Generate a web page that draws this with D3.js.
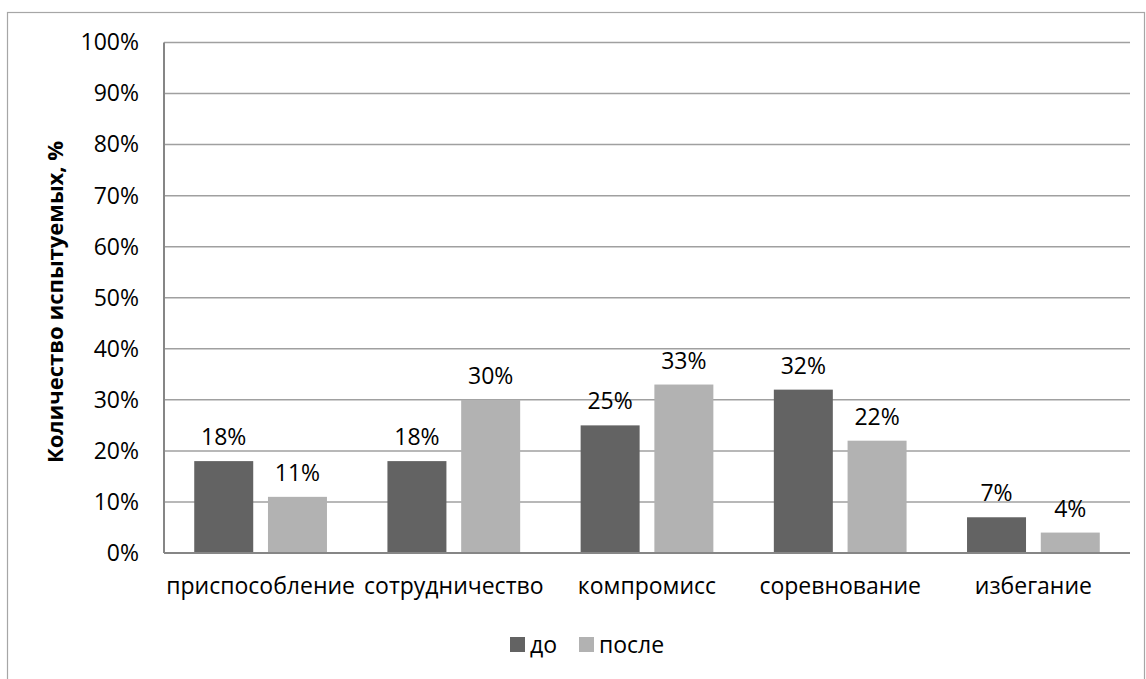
<!DOCTYPE html>
<html>
<head>
<meta charset="utf-8">
<script src="https://cdn.jsdelivr.net/npm/d3@7"></script>
<style>
  html, body { margin: 0; padding: 0; background: #fff; }
  svg { display: block; font-family: "Open Sans", "Noto Sans", sans-serif; }
</style>
</head>
<body>
<svg id="chart" width="1146" height="679"></svg>
<script>
// Conflict-handling strategies, share of participants before and after
const categories = ["приспособление", "сотрудничество", "компромисс", "соревнование", "избегание"];
const seriesNames = ["до", "после"];
const valuesBefore = [18, 18, 25, 32, 7];
const valuesAfter = [11, 30, 33, 22, 4];
const yTicks = [0, 10, 20, 30, 40, 50, 60, 70, 80, 90, 100];
const yTitle = "Количество испытуемых, %";

const colors = ["#636363", "#b2b2b2"];
const fontSize = 23;
const svg = d3.select("#chart");

// outer frame
svg.append("rect")
  .attr("x", 7.5).attr("y", 12.5)
  .attr("width", 1137).attr("height", 700)
  .attr("fill", "none").attr("stroke", "#a6a6a6").attr("stroke-width", 1.2);

const plot = { left: 164, right: 1130, top: 42.5, bottom: 553 };

const x = d3.scaleBand().domain(categories).range([plot.left, plot.right]).paddingInner(0).paddingOuter(0);
const sub = d3.scaleBand().domain(seriesNames).range([0, x.bandwidth()]).paddingInner(0.2).paddingOuter(0.41);
const y = d3.scaleLinear().domain([0, 100]).range([plot.bottom, plot.top]);

// horizontal gridlines
svg.append("g").selectAll("line").data(yTicks.filter(d => d > 0)).join("line")
  .attr("x1", plot.left).attr("x2", plot.right)
  .attr("y1", d => y(d)).attr("y2", d => y(d))
  .attr("stroke", "#a0a0a0").attr("stroke-width", 1.5);

// y axis tick labels
const yAxis = d3.axisLeft(y).tickValues(yTicks).tickFormat(d => d + "%").tickSize(0).tickPadding(25);
const gy = svg.append("g").attr("transform", `translate(${plot.left},0)`).call(yAxis);
gy.select(".domain").remove();
gy.selectAll("text").attr("font-size", fontSize).attr("fill", "#000").attr("font-family", "'Open Sans', sans-serif");

const series = [valuesBefore, valuesAfter];

// bars and value labels
series.forEach((vals, si) => {
  svg.append("g").selectAll("rect").data(vals).join("rect")
    .attr("x", (d, i) => x(categories[i]) + sub(seriesNames[si]))
    .attr("y", d => y(d))
    .attr("width", sub.bandwidth())
    .attr("height", d => y(0) - y(d))
    .attr("fill", colors[si]);

  svg.append("g").selectAll("text").data(vals).join("text")
    .attr("x", (d, i) => x(categories[i]) + sub(seriesNames[si]) + sub.bandwidth() / 2)
    .attr("y", d => y(d) - 16)
    .attr("text-anchor", "middle")
    .attr("font-size", fontSize)
    .attr("fill", "#000")
    .text(d => d + "%");
});

// x axis line and category labels
const xAxis = d3.axisBottom(x).tickSize(0).tickPadding(25);
const gx = svg.append("g").attr("transform", `translate(0,${plot.bottom})`).call(xAxis);
gx.select(".domain").attr("stroke", "#868686").attr("stroke-width", 2)
  .attr("d", `M${plot.left},0H${plot.right}`);
gx.selectAll("text").attr("font-size", fontSize).attr("fill", "#000").attr("font-family", "'Open Sans', sans-serif");

// vertical axis line
svg.append("line")
  .attr("x1", plot.left).attr("x2", plot.left)
  .attr("y1", plot.top).attr("y2", plot.bottom)
  .attr("stroke", "#868686").attr("stroke-width", 2);

// y axis title
svg.append("text")
  .attr("transform", `translate(63,302) rotate(-90)`)
  .attr("text-anchor", "middle")
  .attr("font-size", 22)
  .attr("font-weight", "bold")
  .attr("fill", "#000")
  .text(yTitle);

// legend
const legendItems = [{ name: seriesNames[0], x: 510 }, { name: seriesNames[1], x: 579 }];
const lg = svg.append("g");
legendItems.forEach((it, i) => {
  lg.append("rect").attr("x", it.x).attr("y", 637).attr("width", 15).attr("height", 15).attr("fill", colors[i]);
  lg.append("text").attr("x", it.x + 20).attr("y", 644.5).attr("dy", "0.35em")
    .attr("font-size", fontSize).attr("fill", "#000").text(it.name);
});
</script>
</body>
</html>
